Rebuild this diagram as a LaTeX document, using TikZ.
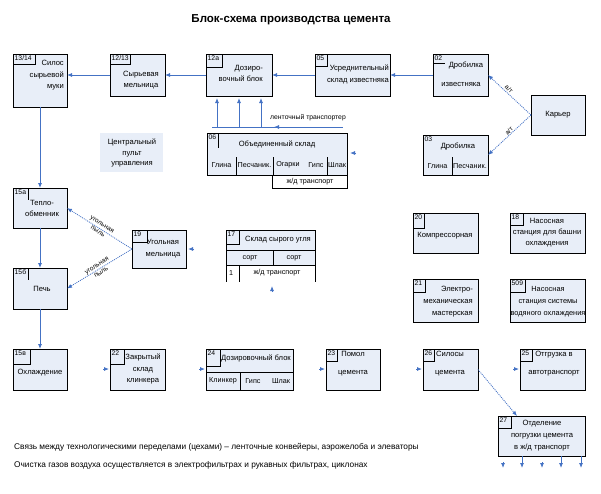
\documentclass[tikz,border=0pt]{standalone}
\usepackage{fontspec}
\setmainfont{Liberation Sans}
\usetikzlibrary{arrows.meta}
\definecolor{boxfill}{RGB}{232,238,248}
\definecolor{conn}{RGB}{68,114,196}
\begin{document}
\begin{tikzpicture}[x=1pt,y=-1pt,
  pbox/.style={draw=black,fill=boxfill,line width=0.9pt,inner sep=0pt,outer sep=0pt,anchor=north west},
  txt/.style={font=\fontsize{7.6}{11.5}\selectfont,inner sep=0pt,align=center},
  txtw/.style={font=\fontsize{7.6}{18}\selectfont,inner sep=0pt,align=center},
  cell/.style={font=\fontsize{7.2}{9}\selectfont,inner sep=0pt},
  lab/.style={font=\fontsize{6.8}{8}\selectfont,inner sep=0pt,anchor=north west},
  rlab/.style={font=\fontsize{6.5}{8}\selectfont,inner sep=0pt,align=center},
  foot/.style={font=\fontsize{8.3}{10}\selectfont,inner sep=0pt,anchor=west},
  ln/.style={draw=black,line width=0.7pt},
  flow/.style={draw=conn,line width=0.8pt,-{Latex[length=5pt,width=4pt]}},
  dflow/.style={draw=conn,line width=0.8pt,dash pattern=on 1pt off 1pt,-{Latex[length=5pt,width=4pt]}},
  cline/.style={draw=conn,line width=0.8pt},
]
\useasboundingbox (0,0) rectangle (601,493);

% title
\node[font=\bfseries\fontsize{11.5}{13}\selectfont,inner sep=0pt] (title) at (291,20) {Блок-схема производства цемента};

% top row
\node[pbox,minimum width=54,minimum height=53] (b1314) at (13,54) {};
\draw[ln] (35,54) |- (13,64);
\node[lab] (l1314) at (14.5,55.5) {13/14};
\node[txt,align=right,anchor=east] (t1314) at (64,75.5) {Силос\\сырьевой\\муки};

\node[pbox,minimum width=55,minimum height=42] (b1213) at (110,54) {};
\draw[ln] (130,54) |- (110,64);
\node[lab] (l1213) at (111.5,55.5) {12/13};
\node[txt] (t1213) at (141,80) {Сырьевая\\мельница};

\node[pbox,minimum width=66,minimum height=42] (b12a) at (206,54) {};
\draw[ln] (222,54) |- (206,67);
\node[lab] (l12a) at (207.5,55.5) {12а};
\node[txt,align=right,anchor=east] (t12a) at (263,73.5) {Дозиро-\\вочный блок};

\node[pbox,minimum width=75,minimum height=42] (b05) at (315,54) {};
\draw[ln] (327,54) |- (315,66);
\node[lab] (l05) at (316.5,55.5) {05};
\node[txt,align=right,anchor=east] (t05) at (389,74.5) {Усреднительный\\склад известняка};

\node[pbox,minimum width=55,minimum height=42] (b02) at (433,54) {};
\draw[ln] (433,63) -- (445,63);
\node[lab] (l02) at (434.5,55.5) {02};
\node[txt] (t02a) at (466,65) {Дробилка};
\node[txt] (t02b) at (461,84) {известняка};

\node[pbox,minimum width=54,minimum height=40] (karier) at (531,95) {};
\node[txt] (tkar) at (558,115) {Карьер};

\node[pbox,minimum width=65,minimum height=40] (b03) at (423,135) {};
\node[lab] (l03) at (424.5,136.5) {03};
\node[txt] (t03) at (458,146) {Дробилка};
\draw[ln] (452,157) -- (452,175);
\node[cell] (t03a) at (437.5,166) {Глина};
\node[cell] (t03b) at (470,166) {Песчаник.};

% central control
\node[fill=boxfill,minimum width=63,minimum height=39,inner sep=0pt,anchor=north west] (cpu) at (100,133) {};
\node[font=\fontsize{7.6}{10.8}\selectfont,inner sep=0pt,align=center] (tcpu) at (132,153) {Центральный\\пульт\\управления};

% joint store
\node[pbox,minimum width=140,minimum height=42] (b06) at (207,133) {};
\draw[ln] (218,133) -- (218,148);
\node[lab] (l06) at (208.5,134.5) {06};
\node[txt] (t06) at (277,144) {Объединенный склад};
\draw[ln] (236,157) -- (236,175);
\draw[ln] (273,157) -- (273,175);
\draw[ln] (327,157) -- (327,175);
\node[cell] (t06a) at (221.5,165) {Глина};
\node[cell] (t06b) at (254.5,165) {Песчаник.};
\node[cell] (t06c) at (288,165) {Огарки};
\node[cell] (t06d) at (316,165) {Гипс};
\node[cell] (t06e) at (337,165) {Шлак};
\node[draw=black,line width=0.7pt,fill=white,minimum width=75,minimum height=13,inner sep=0pt,anchor=north west] (b06r) at (272,175) {};
\node[cell] (t06r) at (310,181.5) {ж/д транспорт};

% conveyor
\coordinate (cL) at (212,127);
\coordinate (cR) at (343,127);
\draw[cline] (cL) -- (cR);
\coordinate (cm1) at (280,127);
\coordinate (cm2) at (274,127);
\draw[flow] (cm1) -- (cm2);
\node[rlab,font=\fontsize{6.8}{8}\selectfont] (tconv) at (308,118) {ленточный транспортер};
\coordinate (cv1) at (217,127);
\coordinate (cv2) at (239,127);
\coordinate (cv3) at (261,127);
\draw[flow,shorten >=2pt] (cv1) -- (cv1 |- b12a.south);
\draw[flow,shorten >=2pt] (cv2) -- (cv2 |- b12a.south);
\draw[flow,shorten >=2pt] (cv3) -- (cv3 |- b12a.south);
\coordinate (s06a) at (356,153);
\coordinate (s06b) at (350,153);
\draw[flow] (s06a) -- (s06b);

% kiln line
\node[pbox,minimum width=54,minimum height=40] (b15a) at (13,188) {};
\draw[ln] (28,188) -- (28,200);
\node[lab] (l15a) at (14.5,189.5) {15а};
\node[txt] (t15a) at (42,208.5) {Тепло-\\обменник};

\node[pbox,minimum width=54,minimum height=41] (b15b) at (13,268) {};
\draw[ln] (28,268) -- (28,280);
\node[lab] (l15b) at (14.5,269.5) {15б};
\node[txt] (t15b) at (42,289) {Печь};

\node[pbox,minimum width=54,minimum height=38] (b19) at (132,230) {};
\draw[ln] (147,230) |- (132,242);
\node[lab] (l19) at (133.5,231.5) {19};
\node[txt] (t19) at (163,248.5) {Угольная\\мельница};
\coordinate (s19a) at (194,249);
\coordinate (s19b) at (188,249);
\draw[flow] (s19a) -- (s19b);

% coal store
\node[pbox,minimum width=89,minimum height=35] (b17) at (226,230) {};
\draw[ln] (226,250) -- (315,250);
\draw[ln] (239,230) |- (226,244);
\node[lab] (l17) at (227.5,231.5) {17};
\node[txt] (t17) at (278,240) {Склад сырого угля};
\draw[ln] (273,250) -- (273,265);
\node[cell] (t17a) at (250,258) {сорт};
\node[cell] (t17b) at (294,258) {сорт};
\draw[ln] (226,265) -- (226,282);
\draw[ln] (239,265) -- (239,282);
\draw[ln] (315,265) -- (315,282);
\node[cell] (t17c) at (231,273) {1};
\node[cell] (t17d) at (277,273) {ж/д транспорт};
\coordinate (s17a) at (272,292);
\coordinate (s17b) at (272,286);
\draw[flow] (s17a) -- (s17b);

% bottom row
\node[pbox,minimum width=54,minimum height=41] (b15v) at (13,349) {};
\draw[ln] (30,349) |- (13,364);
\node[lab] (l15v) at (14.5,350.5) {15в};
\node[txt] (t15v) at (40,373) {Охлаждение};

\node[pbox,minimum width=55,minimum height=41] (b22) at (110,349) {};
\draw[ln] (124,349) |- (110,364);
\node[lab] (l22) at (111.5,350.5) {22};
\node[txt] (t22) at (143,369) {Закрытый\\склад\\клинкера};

\node[pbox,minimum width=87,minimum height=41] (b24) at (206,349) {};
\draw[ln] (220,349) |- (206,366);
\node[lab] (l24) at (207.5,350.5) {24};
\node[txt] (t24) at (256,358) {Дозировочный блок};
\draw[ln] (206,372) -- (293,372);
\draw[ln] (240,372) -- (240,390);
\node[cell] (t24a) at (223,381) {Клинкер};
\node[cell] (t24b) at (253,381) {Гипс};
\node[cell] (t24c) at (281,381) {Шлак};

\node[pbox,minimum width=54,minimum height=41] (b23) at (326,349) {};
\draw[ln] (337,349) |- (326,361);
\node[lab] (l23) at (327.5,350.5) {23};
\node[txtw] (t23) at (353,364) {Помол\\цемента};

\node[pbox,minimum width=55,minimum height=41] (b26) at (423,349) {};
\draw[ln] (434,349) |- (423,361);
\node[lab] (l26) at (424.5,350.5) {26};
\node[txtw] (t26) at (450,364) {Силосы\\цемента};

\node[pbox,minimum width=65,minimum height=41] (b25) at (520,349) {};
\draw[ln] (532,349) |- (520,361);
\node[lab] (l25) at (521.5,350.5) {25};
\node[txtw] (t25) at (554,364) {Отгрузка в\\автотранспорт};

\node[pbox,minimum width=87,minimum height=40] (b27) at (498,416) {};
\draw[ln] (511,416) |- (498,428);
\node[lab] (l27) at (499.5,417.5) {27};
\node[font=\fontsize{7.6}{12}\selectfont,inner sep=0pt,align=center] (t27) at (542,436) {Отделение\\погрузки цемента\\в ж/д транспорт};

% auxiliary
\node[pbox,minimum width=65,minimum height=40] (b20) at (413,213) {};
\draw[ln] (424,213) |- (413,228);
\node[lab] (l20) at (414.5,214.5) {20};
\node[txt] (t20) at (445,236) {Компрессорная};

\node[pbox,minimum width=75,minimum height=40] (b18) at (510,213) {};
\draw[ln] (523,213) |- (510,225);
\node[lab] (l18) at (511.5,214.5) {18};
\node[font=\fontsize{7.6}{11}\selectfont,inner sep=0pt,align=center] (t18) at (547,233) {Насосная\\станция для башни\\охлаждения};

\node[pbox,minimum width=65,minimum height=43] (b21) at (413,279) {};
\draw[ln] (425,279) |- (413,292);
\node[lab] (l21) at (414.5,280.5) {21};
\node[font=\fontsize{7.6}{12}\selectfont,inner sep=0pt,align=right,anchor=east] (t21) at (473,302) {Электро-\\механическая\\мастерская};

\node[pbox,minimum width=75,minimum height=43] (b509) at (510,279) {};
\draw[ln] (525,279) |- (510,292);
\node[lab] (l509) at (511.5,280.5) {509};
\node[font=\fontsize{7.4}{12}\selectfont,inner sep=0pt,align=center] (t509) at (548,302) {Насосная\\станция системы\\водяного охлаждения};

% main flow connectors
\draw[flow] (b1213.west) -- (b1314.east |- b1213.west);
\draw[flow] (b12a.west) -- (b1213.east);
\draw[flow] (b05.west) -- (b12a.east);
\draw[flow] (b02.west) -- (b05.east);
\draw[flow] (b1314.south) -- (b15a.north);
\draw[flow] (b15a.south) -- (b15b.north);
\draw[flow] (b15b.south) -- (b15v.north);

% quarry
\draw[dflow] (karier.west) -- (b02.east);
\draw[dflow] (karier.west) -- (b03.east);
\node[rlab,rotate=-43] (lk1) at (509,89) {а/т};
\node[rlab,rotate=43] (lk2) at (509,131) {а/т};

% coal
\draw[dflow] (b19.west) -- (b15a.east);
\draw[dflow] (b19.west) -- (b15b.east);
\node[rlab,rotate=-32] (lc1) at (100,228) {угольная\\пыль};
\node[rlab,rotate=32] (lc2) at (99,269) {угольная\\пыль};

% cement
\coordinate (c27in) at (517,416);
\draw[dflow] (b26.east) -- (c27in);

% stubs
\coordinate (s22a) at (103,369);  \coordinate (s22b) at (109,369);
\draw[flow] (s22a) -- (s22b);
\coordinate (s24a) at (199,369);  \coordinate (s24b) at (205,369);
\draw[flow] (s24a) -- (s24b);
\coordinate (s23a) at (319,369);  \coordinate (s23b) at (325,369);
\draw[flow] (s23a) -- (s23b);
\coordinate (s26a) at (416,369);  \coordinate (s26b) at (422,369);
\draw[flow] (s26a) -- (s26b);
\coordinate (s25a) at (513,369);  \coordinate (s25b) at (519,369);
\draw[flow] (s25a) -- (s25b);

% loading outlets
\coordinate (d1) at (522,468);
\coordinate (d2) at (561,468);
\coordinate (d3) at (581,468);
\draw[flow] (d1 |- b27.south) -- (d1);
\draw[flow] (d2 |- b27.south) -- (d2);
\draw[flow] (d3 |- b27.south) -- (d3);
\coordinate (e1a) at (503,462); \coordinate (e1b) at (503,468);
\coordinate (e2a) at (542,462); \coordinate (e2b) at (542,468);
\draw[flow] (e1a) -- (e1b);
\draw[flow] (e2a) -- (e2b);

% footer
\node[foot] (f1) at (14,447) {Связь между технологическими переделами (цехами) – ленточные конвейеры, аэрожелоба и элеваторы};
\node[foot] (f2) at (14,465) {Очистка газов воздуха осуществляется в электрофильтрах и рукавных фильтрах, циклонах};
\end{tikzpicture}
\end{document}
